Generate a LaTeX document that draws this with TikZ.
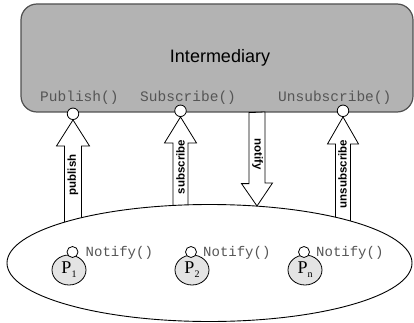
\documentclass[tikz,border=0pt]{standalone}
\usepackage{fontspec}
\setmainfont{Liberation Sans}
\newfontfamily\monofont{Liberation Mono}
\newfontfamily\serifont{Liberation Serif}
\usetikzlibrary{calc,shapes.geometric}
\definecolor{boxgray}{RGB}{179,179,179}
\definecolor{edgegray}{RGB}{80,80,80}
\definecolor{methodgray}{RGB}{85,85,85}
\definecolor{procgray}{RGB}{228,228,228}
\newcommand\procsub[1]{\raisebox{-4pt}{\fontsize{10}{10}\selectfont #1}}

\begin{document}
\begin{tikzpicture}[x=1pt,y=-1pt,
  port/.style={circle,draw,fill=white,inner sep=0pt,minimum size=11.5pt,line width=0.8pt},
  method/.style={font=\monofont\fontsize{14.5}{14.5}\selectfont,text=methodgray,inner sep=0pt,anchor=base west},
  flow/.style={draw,fill=white,line width=0.8pt,line join=miter},
  flowlabel/.style={font=\bfseries\fontsize{11.5}{11.5}\selectfont,inner sep=0pt},
  proc/.style={ellipse,draw,fill=procgray,line width=0.8pt,minimum width=34pt,minimum height=30pt,inner sep=0pt,
    font=\serifont\fontsize{18}{18}\selectfont},
  notifytext/.style={font=\monofont\fontsize{14}{14}\selectfont,text=methodgray,inner sep=0pt,anchor=base west}]
\useasboundingbox (0,0) rectangle (414,323);

% the intermediary and its interface
\node[draw=edgegray,fill=boxgray,line width=1.2pt,rounded corners=16pt,
      minimum width=392pt,minimum height=108pt,inner sep=0pt] (inter) at (217,58) {};
\node[anchor=base,inner sep=0pt,font=\fontsize{18}{18}\selectfont] (title) at (220,63) {Intermediary};
\node[method] (mpub) at (40,101.5) {Publish()};
\node[method] (msub) at (140,101.5) {Subscribe()};
\node[method] (munsub) at (278,101.5) {Unsubscribe()};

\node[port] (ppub) at (73,113.8) {};
\node[port] (psub) at (180.5,110.8) {};
\node[port] (punsub) at (343,110.8) {};

% wide flow arrows between the group and the intermediary
\draw[flow] (ppub.south) -- ++(16.5,26) -- ++(-8,0) -- ++(0,80) -- ++(-17,0) -- ++(0,-80) -- ++(-8,0) -- cycle;
\draw[flow] (psub.south) -- ++(16,26) -- ++(-8.5,0) -- ++(0,75) -- ++(-15,0) -- ++(0,-75) -- ++(-8.5,0) -- cycle;
\draw[flow] (punsub.south) -- ++(15.5,27) -- ++(-8,0) -- ++(0,85) -- ++(-15,0) -- ++(0,-85) -- ++(-8,0) -- cycle;
\coordinate (ntop) at (inter.south -| 257,0);
\draw[flow] ($(ntop)+(-8,0)$) -- ++(0,71) -- ++(-7.5,0) -- (257,206) -- ++(15.5,-23) -- ++(-7.5,0) -- ++(0,-71) -- cycle;

\node[flowlabel,rotate=90] (lpub) at (73,175) {publish};
\node[flowlabel,rotate=90] (lsub) at (180.5,167) {subscribe};
\node[flowlabel,rotate=-90] (lnot) at (257.5,154) {notify};
\node[flowlabel,rotate=90] (lunsub) at (342.5,174) {unsubscribe};

% the group of participants
\node[ellipse,draw,fill=white,line width=0.9pt,minimum width=405pt,minimum height=117pt,inner sep=0pt] (group) at (209.5,263) {};

\node[proc] (p1) at (69,270) {P\procsub{1}};
\node[proc] (p2) at (192,270) {P\procsub{2}};
\node[proc] (pn) at (305,270) {P\procsub{n}};

\node[port,minimum size=11pt] (q1) at (72.5,252) {};
\node[port,minimum size=11pt] (q2) at (191,252) {};
\node[port,minimum size=11pt] (qn) at (304,252) {};

\node[notifytext] (n1) at (85.5,256) {Notify()};
\node[notifytext] (n2) at (203,256) {Notify()};
\node[notifytext] (nn) at (316,256) {Notify()};
\end{tikzpicture}
\end{document}
